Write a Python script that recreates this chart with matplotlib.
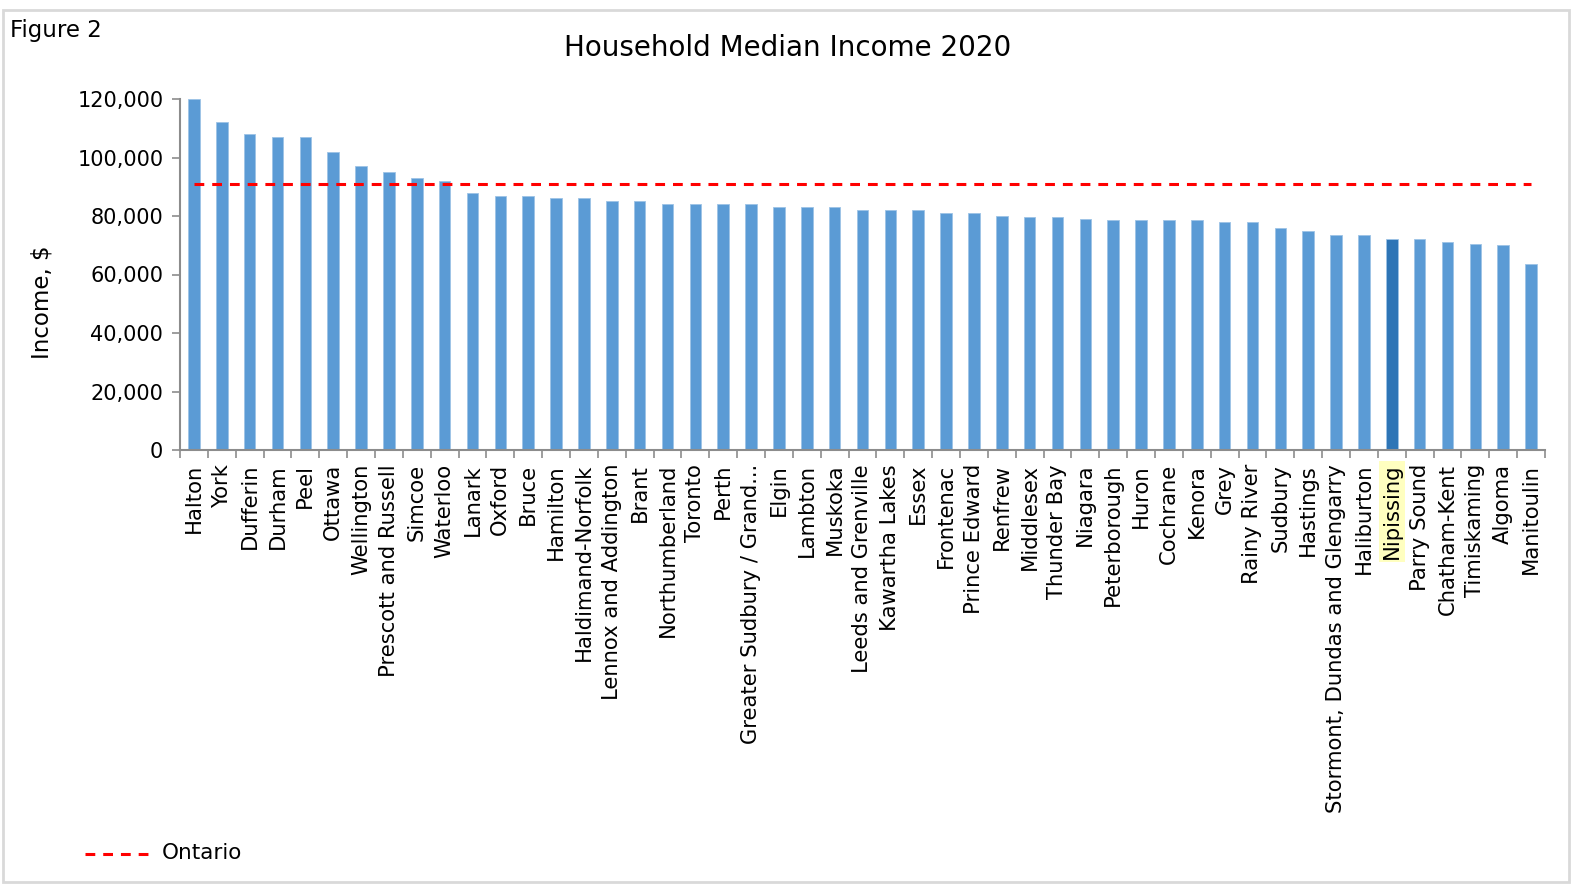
import matplotlib
matplotlib.use('Agg')
import matplotlib.pyplot as plt
from matplotlib.patches import Rectangle
from matplotlib.lines import Line2D
from matplotlib.ticker import FuncFormatter, FixedLocator
import numpy as np

# Household median income by census division, 2020
regions = [
    'Halton', 'York', 'Dufferin', 'Durham', 'Peel', 'Ottawa', 'Wellington',
    'Prescott and Russell', 'Simcoe', 'Waterloo', 'Lanark', 'Oxford', 'Bruce',
    'Hamilton', 'Haldimand-Norfolk', 'Lennox and Addington', 'Brant',
    'Northumberland', 'Toronto', 'Perth', 'Greater Sudbury / Grand...', 'Elgin',
    'Lambton', 'Muskoka', 'Leeds and Grenville', 'Kawartha Lakes', 'Essex',
    'Frontenac', 'Prince Edward', 'Renfrew', 'Middlesex', 'Thunder Bay',
    'Niagara', 'Peterborough', 'Huron', 'Cochrane', 'Kenora', 'Grey',
    'Rainy River', 'Sudbury', 'Hastings', 'Stormont, Dundas and Glengarry',
    'Haliburton', 'Nipissing', 'Parry Sound', 'Chatham-Kent', 'Timiskaming',
    'Algoma', 'Manitoulin',
]
income = [
    120000, 112000, 108000, 107000, 107000, 102000, 97000,
    95000, 93000, 92000, 88000, 87000, 87000,
    86000, 86000, 85000, 85000,
    84000, 84000, 84000, 84000, 83000,
    83000, 83000, 82000, 82000, 82000,
    81000, 81000, 80000, 79500, 79500,
    79000, 78500, 78500, 78500, 78500, 78000,
    78000, 76000, 75000, 73500,
    73500, 72300, 72300, 71000, 70500,
    70000, 63500,
]
ontario = 91000
highlight = 'Nipissing'

yticks = [0, 20000, 40000, 60000, 80000, 100000, 120000]

W, H = 1572, 886
fig = plt.figure(figsize=(W / 100, H / 100), dpi=100)
plt.rcParams['font.family'] = ['DejaVu Sans']

# light frame around the whole chart area
fig.patches.append(Rectangle((3 / W, 4 / H), (W - 6) / W, (H - 14) / H,
                             transform=fig.transFigure, fill=False,
                             edgecolor='#d9d9d9', linewidth=2))

ax = fig.add_axes([180 / W, 1 - 450 / H, 1365 / W, 351 / H])

x = np.arange(len(regions))
colors = ['#2e75b6' if r == highlight else '#5b9bd5' for r in regions]
ax.bar(x, income, width=0.42, color=colors, edgecolor='#9dc3e6', linewidth=0.6)
ax.plot(x, [ontario] * len(x), color='#ff0000', linestyle=(0, (3.2, 2.6)),
        linewidth=2.2)

ax.set_xlim(-0.5, len(regions) - 0.5)
ax.set_ylim(0, 120000)
ax.set_yticks(yticks)
ax.yaxis.set_major_formatter(FuncFormatter(lambda v, p: f'{int(v):,}'))

ax.set_xticks(x)
ax.set_xticklabels(regions, rotation=90, fontsize=15.2)
ax.xaxis.set_minor_locator(FixedLocator(np.arange(len(regions) + 1) - 0.5))
ax.tick_params(axis='x', which='major', length=0, pad=10)
ax.tick_params(axis='x', which='minor', length=6, color='#8c8c8c', width=1.2)
ax.tick_params(axis='y', length=6, color='#8c8c8c', width=1.2, labelsize=15, pad=6)

for lbl in ax.get_xticklabels():
    if lbl.get_text() == highlight:
        lbl.set_bbox(dict(facecolor='#ffffc0', edgecolor='none', pad=2))

for s in ['top', 'right']:
    ax.spines[s].set_visible(False)
for s in ['left', 'bottom']:
    ax.spines[s].set_color('#8c8c8c')
    ax.spines[s].set_linewidth(1.5)

ax.set_ylabel('Income, $', fontsize=16.5)
ax.yaxis.set_label_coords(-0.093, 0.42)

fig.text(788 / W, 1 - 48 / H, 'Household Median Income 2020', ha='center',
         va='center', fontsize=20)
fig.text(10 / W, 1 - 30 / H, 'Figure 2', ha='left', va='center', fontsize=16.5)

# legend entry for the provincial line
fig.lines.append(Line2D([85 / W, 150 / W], [1 - 854 / H] * 2,
                        transform=fig.transFigure, color='#ff0000',
                        linestyle=(0, (3.2, 2.6)), linewidth=2.2))
fig.text(162 / W, 1 - 853 / H, 'Ontario', ha='left', va='center', fontsize=15.5)

fig.savefig('out.png', dpi=100)
